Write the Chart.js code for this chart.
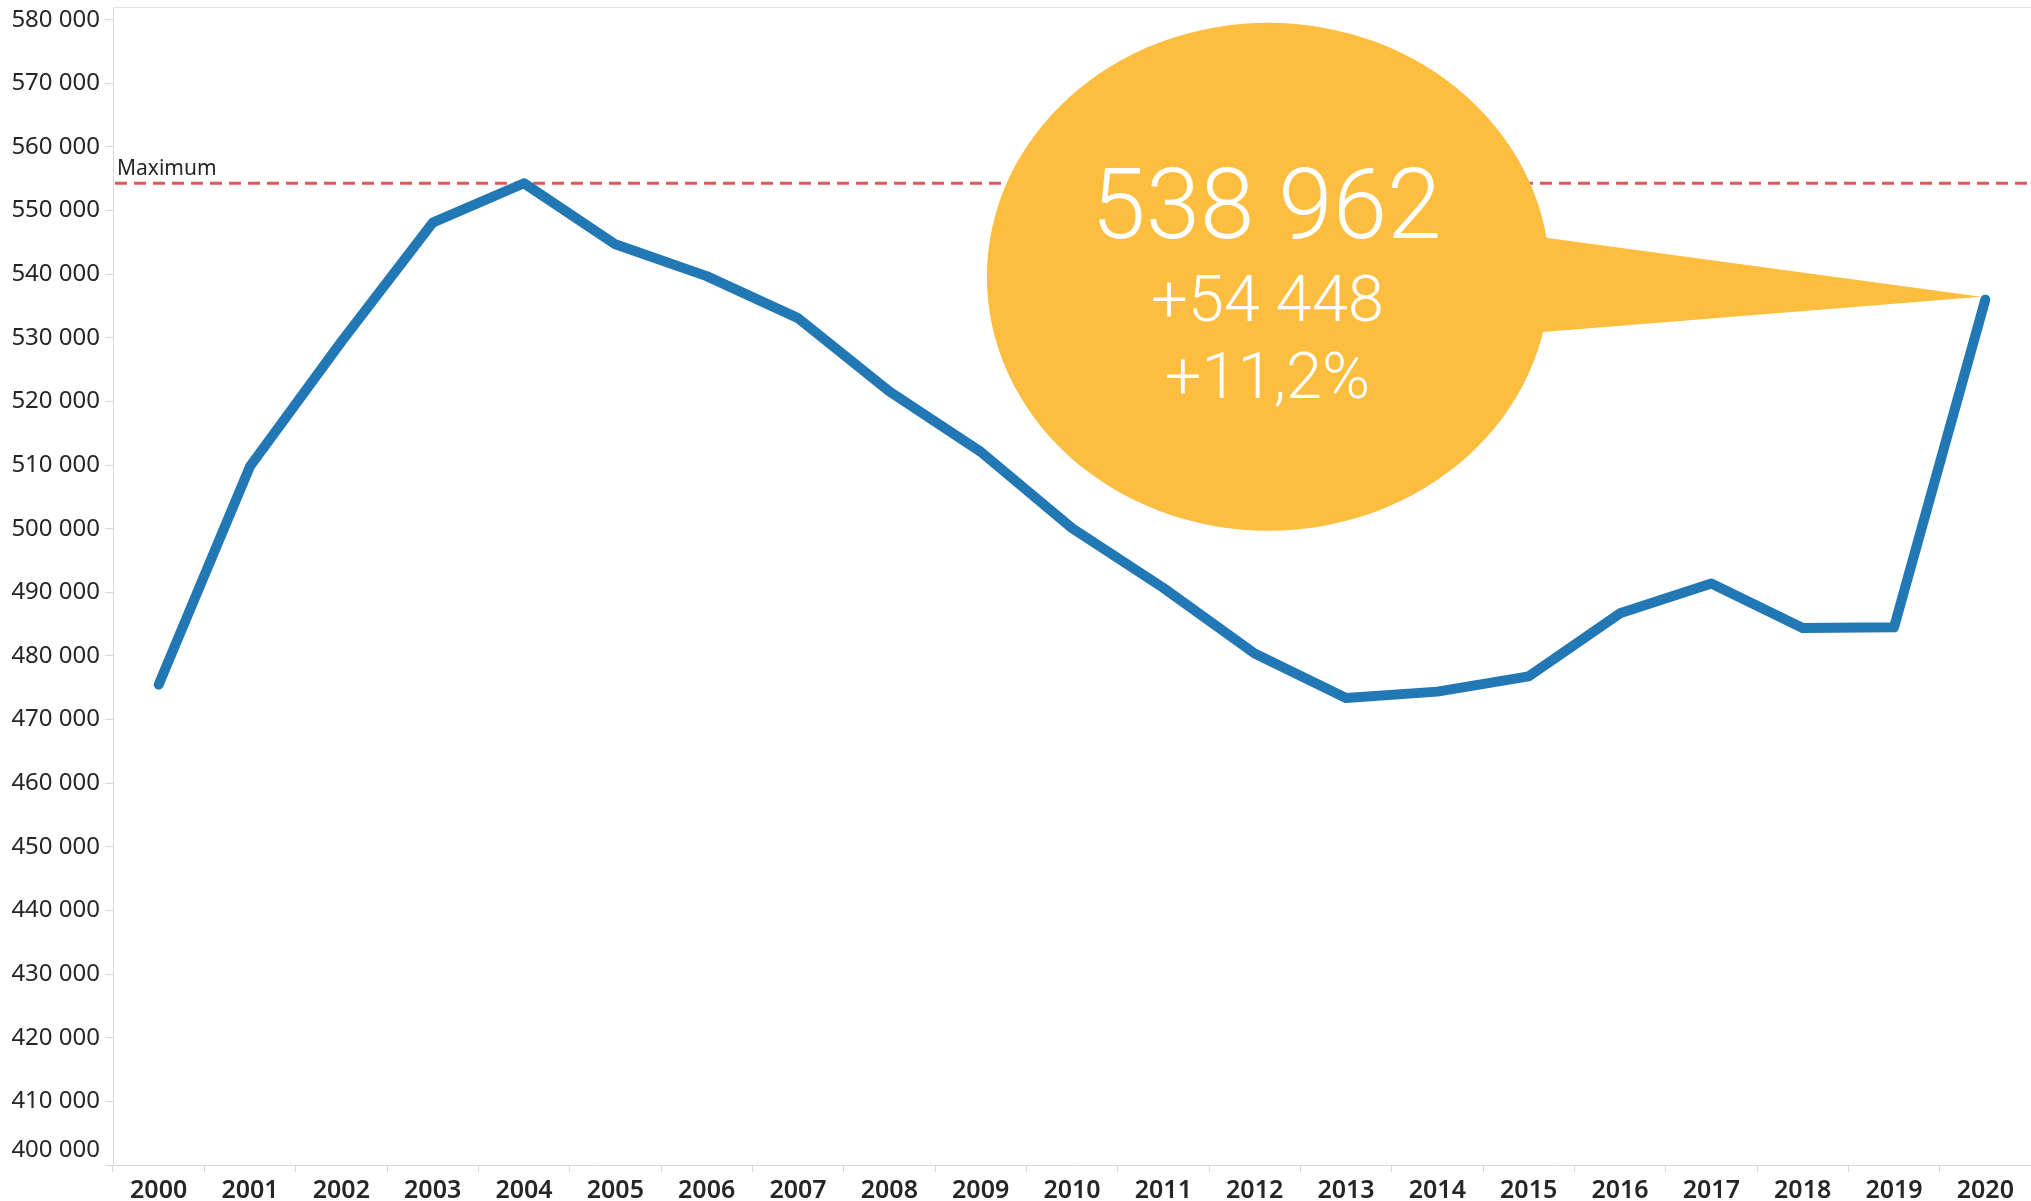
<!DOCTYPE html>
<html>
<head>
<meta charset="utf-8">
<style>
  html, body { margin: 0; padding: 0; background: #fff; }
  canvas { display: block; }
</style>
<script src="https://cdn.jsdelivr.net/npm/chart.js@4.4.0/dist/chart.umd.min.js"></script>
</head>
<body>
<canvas id="chart" width="2031" height="1201"></canvas>
<script>
/* ── Data ────────────────────────────────────────────────────── */
const YEARS = ['2000', '2001', '2002', '2003', '2004', '2005', '2006', '2007', '2008', '2009', '2010',
               '2011', '2012', '2013', '2014', '2015', '2016', '2017', '2018', '2019', '2020'];

const VALUES = [475500, 509800, 529400, 548100, 554300, 544700, 539700, 533100, 521600, 512100, 500100,
                490700, 480400, 473400, 474400, 476800, 486700, 491400, 484400, 484500, 536000];

const Y_TICKS = [400000, 410000, 420000, 430000, 440000, 450000, 460000, 470000, 480000, 490000,
                 500000, 510000, 520000, 530000, 540000, 550000, 560000, 570000, 580000];

const MAX_LABEL = 'Maximum';
const CALLOUT_LINES = ['538 962', '+54 448', '+11,2%'];

/* ── Helpers ─────────────────────────────────────────────────── */
const fmt = v => String(v).replace(/\B(?=(\d{3})+(?!\d))/g, ' ');
const AXIS_GREY = '#d9d9d9';
const TEXT = '#262626';

/* ── Plugin: top frame, max line, callout, shifted bottom label ─ */
const decorations = {
  id: 'decorations',
  beforeDatasetsDraw(chart) {
    const { ctx, chartArea: a, scales: { x, y } } = chart;
    ctx.save();

    // top frame line
    ctx.strokeStyle = '#e3e3e3';
    ctx.lineWidth = 1;
    ctx.beginPath();
    ctx.moveTo(a.left, a.top + 0.5);
    ctx.lineTo(a.right, a.top + 0.5);
    ctx.stroke();

    // maximum reference line
    const maxY = y.getPixelForValue(Math.max(...VALUES));
    ctx.strokeStyle = '#e15759';
    ctx.lineWidth = 3;
    ctx.setLineDash([12, 7]);
    ctx.beginPath();
    ctx.moveTo(a.left + 2, maxY);
    ctx.lineTo(a.right, maxY);
    ctx.stroke();
    ctx.setLineDash([]);

    ctx.fillStyle = TEXT;
    ctx.font = "21px 'Noto Sans', sans-serif";
    ctx.textAlign = 'left';
    ctx.textBaseline = 'alphabetic';
    ctx.fillText(MAX_LABEL, a.left + 4, maxY - 8);

    // callout bubble pointing at the last value
    const last = VALUES.length - 1;
    const tipX = x.getPixelForValue(last) - 4;
    const tipY = y.getPixelForValue(VALUES[last]) - 3;
    const cx = x.getPixelForValue(12.15);
    const cy = y.getPixelForValue(539600);
    const rx = 281.5, ry = 254;
    const t1 = -9 * Math.PI / 180, t2 = 12.7 * Math.PI / 180;

    ctx.fillStyle = '#fdbd3f';
    ctx.beginPath();
    ctx.ellipse(cx, cy, rx, ry, 0, 0, Math.PI * 2);
    ctx.fill();
    ctx.beginPath();
    ctx.moveTo(cx + rx * Math.cos(t1) - 6, cy + ry * Math.sin(t1));
    ctx.lineTo(tipX, tipY);
    ctx.lineTo(cx + rx * Math.cos(t2) - 6, cy + ry * Math.sin(t2));
    ctx.closePath();
    ctx.fill();

    ctx.fillStyle = '#ffffff';
    ctx.textAlign = 'center';
    ctx.font = "300 98px Roboto, sans-serif";
    ctx.fillText(CALLOUT_LINES[0], cx - 2, cy - 39);
    ctx.font = "300 65px Roboto, sans-serif";
    ctx.fillText(CALLOUT_LINES[1], cx - 1, cy + 44);
    ctx.fillText(CALLOUT_LINES[2], cx - 1, cy + 121);

    ctx.restore();
  },
  afterDraw(chart) {
    // bottom y label sits a little above its tick, as in the source
    const { ctx, scales: { y } } = chart;
    ctx.save();
    ctx.fillStyle = TEXT;
    ctx.font = "24px 'Noto Sans', sans-serif";
    ctx.textAlign = 'right';
    ctx.textBaseline = 'middle';
    ctx.fillText(fmt(y.min), y.right - 13, y.getPixelForValue(y.min) - 15);
    ctx.restore();
  },
};

/* ── Chart ───────────────────────────────────────────────────── */
new Chart(document.getElementById('chart'), {
  type: 'line',
  data: {
    labels: YEARS,
    datasets: [{
      data: VALUES,
      borderColor: '#2178b5',
      borderWidth: 10,
      borderCapStyle: 'round',
      borderJoinStyle: 'round',
      pointRadius: 0,
      tension: 0,
      fill: false,
    }],
  },
  options: {
    responsive: false,
    animation: false,
    layout: { padding: { top: 7, right: 0, left: 0, bottom: 0 } },
    plugins: { legend: { display: false }, tooltip: { enabled: false } },
    scales: {
      x: {
        offset: true,
        grid: { offset: true, drawOnChartArea: false, tickLength: 7, color: AXIS_GREY },
        border: { color: AXIS_GREY },
        ticks: {
          color: TEXT, padding: 4, maxRotation: 0, autoSkip: false,
          font: { family: "'Noto Sans', sans-serif", size: 25, weight: '600' },
        },
        afterFit: s => { s.height = 36; s.paddingLeft = 0; s.paddingRight = 0; },
      },
      y: {
        min: 400000,
        max: 582000,
        afterBuildTicks: s => { s.ticks = Y_TICKS.map(v => ({ value: v })); },
        grid: { drawOnChartArea: false, tickLength: 8, color: AXIS_GREY },
        border: { color: AXIS_GREY },
        ticks: {
          color: TEXT, padding: 5,
          font: { family: "'Noto Sans', sans-serif", size: 24 },
          callback: v => (v === 400000 ? '' : fmt(v)),
        },
        afterFit: s => { s.width = 113; s.paddingTop = 0; s.paddingBottom = 0; },
      },
    },
  },
  plugins: [decorations],
});
</script>
</body>
</html>
